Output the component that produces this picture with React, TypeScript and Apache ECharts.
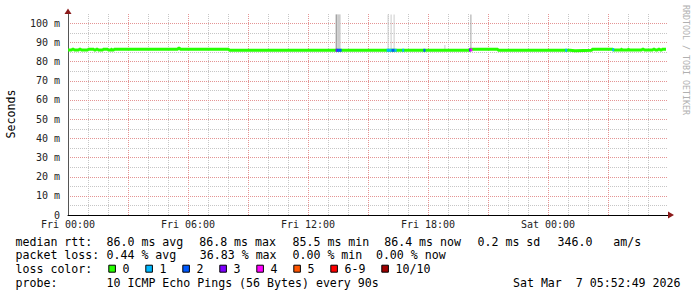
import React, { useEffect, useRef } from "react";
import * as echarts from "echarts";

// ---- data (hours since Fri 00:00) ----
const medianHours = [
  0.0, 0.2, 0.3, 0.55, 0.65, 1.0, 1.3, 1.4, 1.5, 1.75, 2.0, 2.15, 2.2, 2.3,
  5.5, 5.6, 8.05, 20.1, 21.5, 25.1, 25.35, 26.2, 27.25, 27.65, 27.7, 28.0,
  28.05, 28.7, 28.8, 29.25, 29.35, 29.5, 29.6, 29.7, 29.9,
];
const medianValues = [
  85.9, 86.3, 85.9, 86.3, 85.9, 86.3, 85.9, 86.3, 85.9, 86.3, 85.9, 86.3, 85.9, 86.3,
  86.8, 86.3, 85.8, 86.3, 85.8, 85.5, 85.8, 86.3, 85.9, 86.4, 85.9, 86.4,
  85.9, 86.4, 85.9, 86.4, 85.9, 86.4, 85.9, 86.4, 86.4,
];

// [start hour, end hour, median ms, loss bucket index]
const lossSegments = [
  [13.38, 13.45, 85.8, 3],
  [13.45, 13.68, 85.8, 2],
  [15.93, 16.18, 85.8, 1],
  [16.18, 16.33, 85.8, 2],
  [16.33, 16.43, 85.8, 1],
  [16.71, 16.79, 85.8, 1],
  [17.77, 17.87, 85.8, 2],
  [20.05, 20.12, 86.0, 3],
  [20.12, 20.22, 86.0, 4],
  [24.86, 24.96, 85.8, 1],
  [27.21, 27.31, 86.1, 1],
];

// [start hour, end hour, low ms, high ms, shade (0 light, 1 dark)]
const smokeSpikes = [
  [13.38, 13.46, 85.5, 104.5, 1],
  [13.46, 13.63, 86.0, 104.5, 0],
  [15.98, 16.03, 86.0, 104.5, 0],
  [16.13, 16.18, 86.0, 104.5, 0],
  [16.28, 16.33, 86.0, 104.5, 0],
  [18.82, 18.87, 86.0, 88.5, 0],
  [20.12, 20.17, 86.0, 104.5, 1],
];

const xTickHours = [0, 6, 12, 18, 24];
const xTickLabels = ["Fri 00:00", "Fri 06:00", "Fri 12:00", "Fri 18:00", "Sat 00:00"];
const yTickValues = [0, 10, 20, 30, 40, 50, 60, 70, 80, 90, 100];
const yTickLabels = ["0", "10 m", "20 m", "30 m", "40 m", "50 m", "60 m", "70 m", "80 m", "90 m", "100 m"];

// grid: minor every hour / 5 ms, major every 3 hours / 10 ms
const gridHours = [1, 2, 3, 4, 5, 6, 7, 8, 9, 10, 11, 12, 13, 14, 15, 16, 17, 18, 19, 20, 21, 22, 23, 24, 25, 26, 27, 28, 29];
const gridMs = [5, 10, 15, 20, 25, 30, 35, 40, 45, 50, 55, 60, 65, 70, 75, 80, 85, 90, 95, 100];

const lossLabels = ["0", "1", "2", "3", "4", "5", "6-9", "10/10"];
const lossColors = ["#26ff00", "#00b8ff", "#0059ff", "#7e00ff", "#ff00ff", "#ff5500", "#ff0000", "#a00000"];

const rttTitle = "median rtt:";
const rttItems = ["86.0 ms avg", "86.8 ms max", "85.5 ms min", "86.4 ms now", "0.2 ms sd", "346.0   am/s"];
const lossTitle = "packet loss:";
const lossItems = ["0.44 % avg", "36.83 % max", "0.00 % min", "0.00 % now"];
const colorTitle = "loss color:";
const probeTitle = "probe:";
const probeText = "10 ICMP Echo Pings (56 Bytes) every 90s";
const dateText = "Sat Mar  7 05:52:49 2026";
const yAxisTitle = "Seconds";
const watermark = "RRDTOOL / TOBI OETIKER";

const MONO = "'DejaVu Sans Mono', 'Liberation Mono', monospace";
const FONT = `11.6px ${MONO}`;
const MAJOR = "#e49494";
const MINOR = "#c6c6c6";

// layout of the legend rows (pixel columns where rrdtool placed each item)
const rttX = [106.5, 199.2, 292.5, 384.2, 477.5, 557.5];
const lossX = [106.5, 199.8, 292.5, 375.9];

const Y_MAX = 104.7;

export default function App() {
  const ref = useRef<HTMLDivElement>(null);

  useEffect(() => {
    if (!ref.current) return;
    const chart = echarts.init(ref.current, undefined, { renderer: "svg" });

    const option: any = {
      animation: false,
      backgroundColor: "#fff",
      grid: { left: 68, top: 14, width: 600, height: 201, containLabel: false },
      xAxis: {
        type: "value",
        min: 0,
        max: 30,
        interval: 3,
        axisLine: { show: true, lineStyle: { color: "#000", width: 1 } },
        axisTick: { show: false },
        splitLine: { show: false },
        axisLabel: {
          margin: 4.5,
          fontFamily: MONO,
          fontSize: 10,
          lineHeight: 10,
          color: "#222",
          showMaxLabel: false,
          formatter: (v: number) => {
            const i = xTickHours.indexOf(Math.round(v * 1000) / 1000);
            return i >= 0 ? xTickLabels[i] : "";
          },
        },
      },
      yAxis: {
        type: "value",
        min: 0,
        max: Y_MAX,
        interval: 10,
        axisLine: { show: true, lineStyle: { color: "#555", width: 1 } },
        axisTick: { show: false },
        splitLine: { show: false },
        axisLabel: {
          margin: 8,
          fontFamily: MONO,
          fontSize: 10,
          lineHeight: 9,
          color: "#222",
          formatter: (v: number) => {
            const i = yTickValues.indexOf(Math.round(v * 1000) / 1000);
            return i >= 0 ? yTickLabels[i] : "";
          },
        },
      },
      series: [
        {
          type: "custom",
          z: 2,
          clip: true,
          encode: { x: [0, 1], y: [2, 3] },
          data: smokeSpikes,
          renderItem: (params: any, api: any) => {
            const p0 = api.coord([api.value(0), api.value(3)]);
            const p1 = api.coord([api.value(1), api.value(2)]);
            const w = Math.max(1, p1[0] - p0[0]);
            return {
              type: "rect",
              shape: { x: p0[0], y: p0[1], width: w, height: p1[1] - p0[1] },
              style: { fill: api.value(4) === 1 ? "#a4a4a4" : "#cccccc" },
            };
          },
        },
        {
          type: "line",
          z: 3,
          step: "end",
          showSymbol: false,
          symbol: "none",
          data: medianHours.map((h, i) => [h, medianValues[i]]),
          lineStyle: { color: lossColors[0], width: 3 },
          itemStyle: { color: lossColors[0] },
        },
        {
          type: "custom",
          z: 4,
          clip: true,
          encode: { x: [0, 1], y: 2 },
          data: lossSegments,
          renderItem: (params: any, api: any) => {
            const p0 = api.coord([api.value(0), api.value(2)]);
            const p1 = api.coord([api.value(1), api.value(2)]);
            const w = Math.max(2, p1[0] - p0[0]);
            return {
              type: "rect",
              shape: { x: p0[0], y: p0[1] - 1.5, width: w, height: 3 },
              style: { fill: lossColors[api.value(3)] },
            };
          },
        },
      ],
    };

    chart.setOption(option);

    // ---- grid lines, placed through the chart's own scales, snapped to pixels ----
    const toPx = (h: number, v: number) => chart.convertToPixel({ gridIndex: 0 }, [h, v]) as number[];
    const origin = toPx(0, 0);
    const topRight = toPx(30, Y_MAX);
    const left = Math.round(origin[0]);
    const right = Math.round(topRight[0]);
    const top = Math.round(topRight[1]);
    const bottom = Math.round(origin[1]);

    const gridElems: any[] = [];
    gridHours.forEach((h) => {
      const x = Math.round(toPx(h, 0)[0]) + 0.5;
      gridElems.push({
        type: "line",
        z: 0,
        silent: true,
        shape: { x1: x, y1: top, x2: x, y2: bottom },
        style: { stroke: h % 3 === 0 ? MAJOR : MINOR, lineWidth: 1, lineDash: [1, 1] },
      });
    });
    gridMs.forEach((v) => {
      const y = Math.round(toPx(0, v)[1]) + 0.5;
      gridElems.push({
        type: "line",
        z: 0,
        silent: true,
        shape: { x1: left, y1: y, x2: right, y2: y },
        style: { stroke: v % 10 === 0 ? MAJOR : MINOR, lineWidth: 1, lineDash: [1, 1] },
      });
    });

    const txt = (t: string, x: number, y: number, align = "left") => ({
      type: "text",
      x,
      y,
      style: { text: t, font: FONT, fill: "#000", align, verticalAlign: "middle" },
    });

    const legendElems: any[] = [];
    let bx = 108.8;
    lossLabels.forEach((lab, i) => {
      legendElems.push({
        type: "rect",
        shape: { x: bx, y: 265.2, width: 6.6, height: 7 },
        style: { fill: lossColors[i], stroke: "#000", lineWidth: 1 },
      });
      legendElems.push(txt(lab, bx + 13.8, 269.3));
      bx = bx + 30 + 7 * lab.length;
    });

    const yRow1 = 241.7, yRow2 = 255.2, yRow3 = 269.3, yRow4 = 282.7;
    const textElems: any[] = [
      txt(rttTitle, 15.5, yRow1),
      ...rttItems.map((t, i) => txt(t, rttX[i], yRow1)),
      txt(lossTitle, 15.5, yRow2),
      ...lossItems.map((t, i) => txt(t, lossX[i], yRow2)),
      txt(colorTitle, 15.5, yRow3),
      txt(probeTitle, 15.5, yRow4),
      txt(probeText, 106.5, yRow4),
      txt(dateText, 680.5, yRow4, "right"),
    ];

    chart.setOption({
      graphic: [
        ...gridElems,
        {
          type: "polygon",
          z: 101,
          shape: { points: [[left - 3.5, top], [left + 3.5, top], [left, top - 5.5]] },
          style: { fill: "#8b1a1a" },
        },
        {
          type: "polygon",
          z: 101,
          shape: { points: [[right, bottom - 3.5], [right, bottom + 3.5], [right + 6, bottom]] },
          style: { fill: "#8b1a1a" },
        },
        {
          type: "text",
          x: 11,
          y: 114,
          rotation: Math.PI / 2,
          style: { text: yAxisTitle, font: FONT, fill: "#000", align: "center", verticalAlign: "middle" },
        },
        {
          type: "text",
          x: 686,
          y: 60,
          rotation: -Math.PI / 2,
          style: { text: watermark, font: `8.3px ${MONO}`, fill: "#b0b0b0", align: "center", verticalAlign: "middle" },
        },
        ...textElems,
        ...legendElems,
      ],
    });

    return () => chart.dispose();
  }, []);

  return (
    <div
      ref={ref}
      style={{ position: "fixed", left: 0, top: 0, width: 697, height: 297, background: "#fff" }}
    />
  );
}
